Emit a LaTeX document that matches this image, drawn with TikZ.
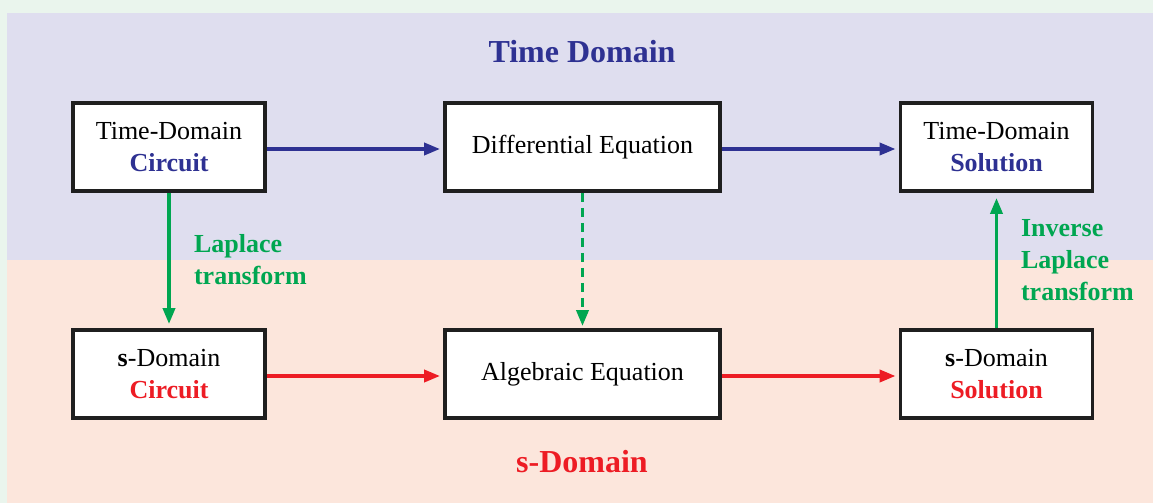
\documentclass[tikz,border=0pt]{standalone}
\usepackage{fontspec}
\setmainfont{Liberation Serif}
\usetikzlibrary{arrows.meta}
\definecolor{tdblue}{RGB}{46,49,146}
\definecolor{sdred}{RGB}{237,28,36}
\definecolor{lpgreen}{RGB}{0,166,81}
\definecolor{tdbg}{RGB}{223,222,239}
\definecolor{sdbg}{RGB}{252,230,220}
\definecolor{margbg}{RGB}{234,245,237}
\begin{document}
\begin{tikzpicture}[
    x=0.5pt, y=-0.5pt,
    box/.style={draw=black!88, line width=1.9pt, fill=white, minimum width=96pt, minimum height=44pt,
      align=center, font=\fontsize{13}{16}\selectfont, inner sep=2pt},
    widebox/.style={box, minimum width=137.5pt},
    conn/.style={line width=1.8pt, -{Triangle[length=8pt, width=6pt]}},
    tdarrow/.style={conn, tdblue, shorten >=1.5pt},
    sdarrow/.style={conn, sdred, shorten >=1.5pt},
    lparrow/.style={conn, lpgreen},
    lplabel/.style={anchor=west, align=left, text=lpgreen, font=\fontsize{13}{16}\selectfont\bfseries},
    title/.style={font=\fontsize{16}{19}\selectfont\bfseries},
  ]
    % === backgrounds ===
    \fill[margbg] (0,0) rectangle (1153,503);
    \fill[tdbg] (7,13) rectangle (1153,260);
    \fill[sdbg] (7,260) rectangle (1153,503);
    \useasboundingbox (0,0) rectangle (1153,503);

    % === domain titles ===
    \node[title, text=tdblue] (tdtitle) at (582,52) {Time Domain};
    \node[title, text=sdred] (sdtitle) at (582,462) {s-Domain};

    % === time domain row ===
    \node[box] (tdc) at (169,147) {Time-Domain\\ \textcolor{tdblue}{\textbf{Circuit}}};
    \node[widebox] (deq) at (582.5,147) {Differential Equation};
    \node[box] (tds) at (996.5,147) {Time-Domain\\ \textcolor{tdblue}{\textbf{Solution}}};

    % === s-domain row ===
    \node[box] (sdc) at (169,374) {\textbf{s}-Domain\\ \textcolor{sdred}{\textbf{Circuit}}};
    \node[widebox] (aeq) at (582.5,374) {Algebraic Equation};
    \node[box] (sds) at (996.5,374) {\textbf{s}-Domain\\ \textcolor{sdred}{\textbf{Solution}}};

    % horizontal flow
    \draw[tdarrow] ([yshift=-1pt]tdc.east) -- ([yshift=-1pt]deq.west);
    \draw[tdarrow] ([yshift=-1pt]deq.east) -- ([yshift=-1pt]tds.west);
    \draw[sdarrow] ([yshift=-1pt]sdc.east) -- ([yshift=-1pt]aeq.west);
    \draw[sdarrow] ([yshift=-1pt]aeq.east) -- ([yshift=-1pt]sds.west);

    % vertical transforms
    \draw[lparrow, shorten >=2pt] (tdc) -- (sdc);
    \draw[lparrow, dash pattern=on 4.5pt off 3pt, shorten >=1pt] (deq) -- (aeq);
    \draw[lparrow, shorten >=2.5pt] (sds) -- (tds);
    \node[lplabel] (lp) at (187,260) {Laplace\\transform};
    \node[lplabel] (ilp) at (1014,260) {Inverse\\Laplace\\transform};
  \end{tikzpicture}
\end{document}
